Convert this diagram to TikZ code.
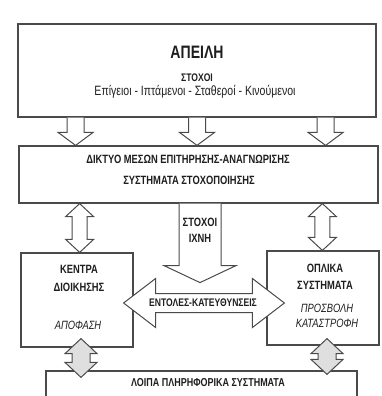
\documentclass[tikz,border=0pt]{standalone}
\usepackage{fontspec}
\setmainfont{Liberation Sans}[FakeStretch=0.78]
\usepackage{xcolor}
\usepackage{tikz}
\usetikzlibrary{calc}

\definecolor{linegray}{HTML}{4A4A4A}
\definecolor{inkgray}{HTML}{1E1E1E}

% block arrows: start, tip, stem half width, head half width, head length
\newcommand{\blockdown}[5]{%
  \draw[blockarrow] let \p1=#1, \p2=#2 in
    (\x1-#3,\y1) -- (\x1-#3,\y2+#5) -- (\x1-#4,\y2+#5) -- (\x1,\y2)
    -- (\x1+#4,\y2+#5) -- (\x1+#3,\y2+#5) -- (\x1+#3,\y1);
}
\newcommand{\blockupdown}[6][]{%
  \draw[blockarrow,#1] let \p1=#2, \p2=#3 in
    (\x1,\y1) -- (\x1+#5,\y1-#6) -- (\x1+#4,\y1-#6) -- (\x1+#4,\y2+#6)
    -- (\x1+#5,\y2+#6) -- (\x1,\y2) -- (\x1-#5,\y2+#6) -- (\x1-#4,\y2+#6)
    -- (\x1-#4,\y1-#6) -- (\x1-#5,\y1-#6) -- cycle;
}
\newcommand{\blockleftright}[5]{%
  \draw[blockarrow] let \p1=#1, \p2=#2 in
    (\x1,\y1) -- (\x1+#5,\y1+#4) -- (\x1+#5,\y1+#3) -- (\x2-#5,\y1+#3)
    -- (\x2-#5,\y1+#4) -- (\x2,\y1) -- (\x2-#5,\y1-#4) -- (\x2-#5,\y1-#3)
    -- (\x1+#5,\y1-#3) -- (\x1+#5,\y1-#4) -- cycle;
}

\tikzset{
  box/.style={draw=linegray, line width=1.2pt, inner sep=0pt},
  blockarrow/.style={draw=linegray, line width=1pt, fill=white, line join=miter},
  caps/.style={font=\bfseries\fontsize{12}{14}\selectfont, text=inkgray, inner sep=0pt},
  slanted/.style={font=\itshape\fontsize{12}{14}\selectfont, text=inkgray, inner sep=0pt},
}

\begin{document}
\begin{tikzpicture}[x=1pt,y=-1pt]
\useasboundingbox (0,0) rectangle (381,396);

% boxes
\node[box, minimum width=358pt, minimum height=93pt] (apeili) at (197,70.5) {};
\node[box, minimum width=359pt, minimum height=57pt] (diktyo) at (198.5,174.5) {};
\node[box, minimum width=112pt, minimum height=94pt] (kentra) at (77,300) {};
\node[box, minimum width=112pt, minimum height=94pt] (oplika) at (323,298) {};
\node[box, minimum width=311pt, minimum height=40pt] (loipa) at (201.5,391) {};

% texts
\node[caps, font=\bfseries\fontsize{18}{21}\selectfont] (apeilitxt) at (197,52) {ΑΠΕΙΛΗ};
\node[caps, font=\bfseries\fontsize{11}{13}\selectfont] (stoxoi) at (197,78) {ΣΤΟΧΟΙ};
\node[caps, font=\fontsize{13.5}{15}\selectfont] (eidi) at (195,92) {Επίγειοι - Ιπτάμενοι - Σταθεροί - Κινούμενοι};
\node[caps] (diktyo1) at (188,159) {ΔΙΚΤΥΟ ΜΕΣΩΝ ΕΠΙΤΗΡΗΣΗΣ-ΑΝΑΓΝΩΡΙΣΗΣ};
\node[caps] (diktyo2) at (189,180) {ΣΥΣΤΗΜΑΤΑ ΣΤΟΧΟΠΟΙΗΣΗΣ};
\node[caps] (kentra1) at (79,269) {ΚΕΝΤΡΑ};
\node[caps] (kentra2) at (79,287) {ΔΙΟΙΚΗΣΗΣ};
\node[slanted] (apofasi) at (78,325) {ΑΠΟΦΑΣΗ};
\node[caps] (oplika1) at (325,268) {ΟΠΛΙΚΑ};
\node[caps] (oplika2) at (325,285) {ΣΥΣΤΗΜΑΤΑ};
\node[slanted] (prosvoli) at (327,308) {ΠΡΟΣΒΟΛΗ};
\node[slanted] (katastrofi) at (327,323) {ΚΑΤΑΣΤΡΟΦΗ};

% arrows from the threat box
\coordinate (a1) at ($(apeili.south west)!0.162!(apeili.south east)$);
\coordinate (a2) at (apeili.south);
\coordinate (a3) at ($(apeili.south west)!0.858!(apeili.south east)$);
\foreach \a in {a1,a2,a3} {
  \blockdown{(\a)}{(\a |- diktyo.north)}{8.5pt}{17.5pt}{13pt}
}

% network <-> centres
\coordinate (d1) at ($(diktyo.south west)!0.17!(diktyo.south east)$);
\coordinate (d3) at ($(diktyo.south west)!0.844!(diktyo.south east)$);
\blockupdown{(d1)}{(d1 |- kentra.north)}{7.5pt}{14pt}{13pt}
\blockupdown{(d3)}{(d3 |- oplika.north)}{7.5pt}{14pt}{13pt}

% targets / tracks
\coordinate (st) at ($(diktyo.south)+(1.5,0)$);
\blockdown{(st)}{($(st)+(0,79)$)}{21pt}{36pt}{17pt}
\node[caps] (stoxoi2) at (200,222) {ΣΤΟΧΟΙ};
\node[caps] (ixni) at (200,238) {ΙΧΝΗ};

% orders
\coordinate (entL) at ($(kentra.east)+(-10,3)$);
\coordinate (entR) at ($(oplika.west)+(18,5)$);
\blockleftright{(entL)}{(entR)}{9.5pt}{24.5pt}{32pt}
\node[caps, font=\bfseries\fontsize{11}{13}\selectfont] (entoles) at (203,303) {ΕΝΤΟΛΕΣ-ΚΑΤΕΥΘΥΝΣΕΙΣ};

% links to the other systems
\coordinate (b1) at ($(kentra.south)+(4,-9)$);
\coordinate (b2) at ($(oplika.south)+(4,-7)$);
\blockupdown[fill=gray!25]{(b1)}{($(b1 |- loipa.north)+(0,7)$)}{9pt}{16pt}{15pt}
\blockupdown[fill=gray!25]{(b2)}{($(b2 |- loipa.north)+(0,4)$)}{9pt}{16pt}{15pt}
\node[caps, font=\bfseries\fontsize{11.5}{13}\selectfont] (loipatxt) at (208,383) {ΛΟΙΠΑ ΠΛΗΡΗΦΟΡΙΚΑ ΣΥΣΤΗΜΑΤΑ};
\end{tikzpicture}
\end{document}
